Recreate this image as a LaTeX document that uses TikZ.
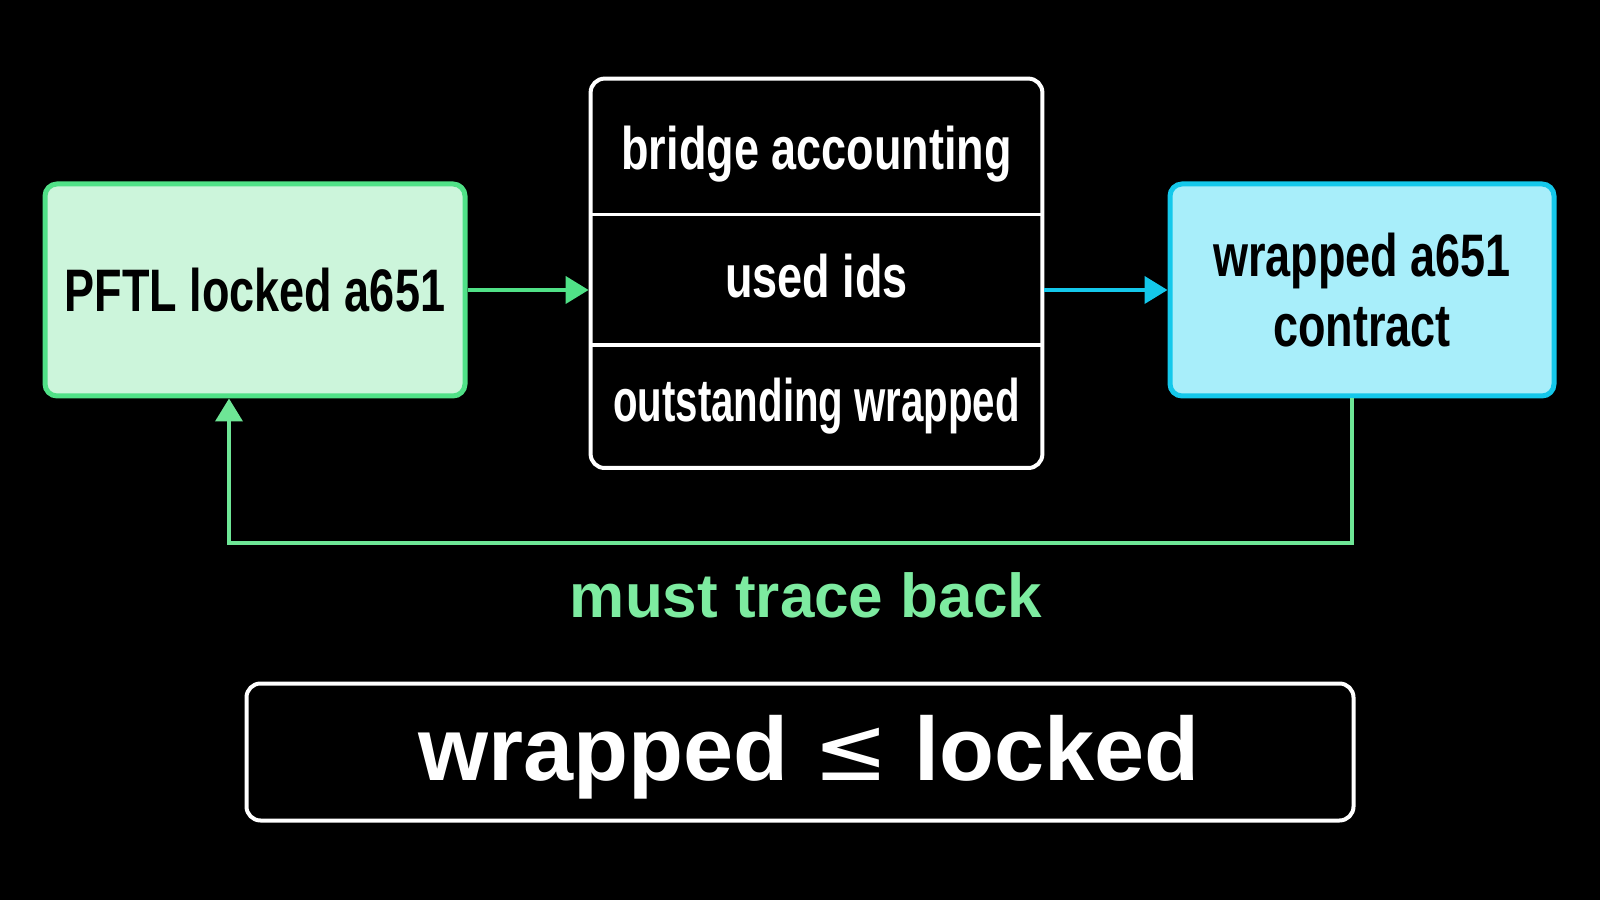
\documentclass[tikz,border=0pt]{standalone}
\usepackage{fontspec}
\setmainfont{Liberation Sans}
\newfontfamily\narrowfont{Liberation Sans}[FakeStretch=0.75]
\newfontfamily\narrowerfont{Liberation Sans}[FakeStretch=0.67]
\newfontfamily\symbolfont{DejaVu Sans}
\usetikzlibrary{arrows.meta,positioning,fit}
\definecolor{lockfill}{RGB}{204,245,219}
\definecolor{lockedge}{RGB}{80,225,135}
\definecolor{wrapfill}{RGB}{168,238,250}
\definecolor{wrapedge}{RGB}{20,200,235}
\definecolor{loopgreen}{RGB}{110,230,150}
\definecolor{tracegreen}{RGB}{125,235,160}
\newcommand{\shiftv}[2]{\raisebox{#1}[\height][\depth]{#2}}
\tikzset{
  boxtext/.style={font=\narrowfont\bfseries\fontsize{30}{35}\selectfont, align=center},
  lockbox/.style={boxtext, draw=lockedge, fill=lockfill, line width=2.5pt, rounded corners=6pt,
    minimum width=210pt, minimum height=106pt, text=black},
  wrapbox/.style={boxtext, draw=wrapedge, fill=wrapfill, line width=2.5pt, rounded corners=6pt,
    minimum width=192pt, minimum height=106pt, text=black},
  ledgerrow/.style={boxtext, text=white, minimum width=225.5pt, inner sep=0pt},
  frame/.style={draw=white, line width=2pt, rounded corners=7pt},
  flow/.style={-{Triangle[length=11.5pt,width=13.5pt]}, line width=2pt}
}
\begin{document}
\begin{tikzpicture}[x=0.5pt, y=0.5pt]
  \fill[black] (0,0) rectangle (1600,900);
  \useasboundingbox (0,0) rectangle (1600,900);

  \node[lockbox] (pftl) at (255,610) {PFTL locked a651};
  \node[wrapbox] (wrapped) at (1362,610) {wrapped a651\\contract};

  % ledger with three rows
  \node[ledgerrow, minimum height=67.5pt] (acct) at (816.5,753.5) {\shiftv{-4pt}{bridge accounting}};
  \node[ledgerrow, minimum height=65pt, below=0pt of acct] (ids) {\shiftv{2pt}{used ids}};
  \node[ledgerrow, minimum height=61pt, below=0pt of ids, font=\narrowerfont\bfseries\fontsize{30}{35}\selectfont] (outst) {outstanding wrapped};
  \node[frame, fit=(acct)(ids)(outst), inner sep=0pt] (ledger) {};
  \draw[white, line width=1.8pt] (acct.south west) -- (acct.south east);
  \draw[white, line width=1.8pt] (ids.south west) -- (ids.south east);

  \draw[flow, draw=lockedge] (pftl.east) -- (pftl.east -| ledger.west);
  \draw[flow, draw=wrapedge] (wrapped.west -| ledger.east) -- (wrapped.west);

  % trace back loop
  \coordinate (turnR) at (1352,357);
  \coordinate (turnL) at (229,357);
  \draw[flow, draw=loopgreen] (wrapped.south -| turnR) -- (turnR) -- (turnL) -- (pftl.south -| turnL);
  \node[anchor=base, text=tracegreen, font=\bfseries\fontsize{31}{36}\selectfont] (traceback) at (806,283) {must trace back};

  \node[frame, minimum width=553.5pt, minimum height=68.5pt, text=white,
    font=\bfseries\fontsize{45}{50}\selectfont] (invariant) at (800,148)
    {\hspace{9pt}\shiftv{-2.5pt}{wrapped {\symbolfont\mdseries ≤} locked}};
\end{tikzpicture}
\end{document}
